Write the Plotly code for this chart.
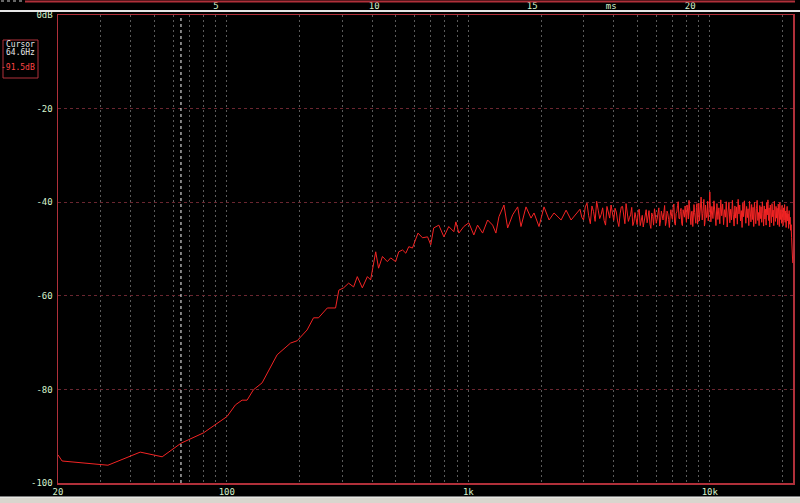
import math
import plotly.graph_objects as go

# ---------------- data ----------------
low_freq = [20, 20.8, 32.2, 43.8, 54.0, 64.6, 80, 91.1, 100.2, 108.6,
            115.7, 121.3, 128.8, 140, 151.6, 161.6, 183.6, 195.6, 215, 228.6,
            239.8, 260.6, 282, 291, 304.6, 319.4, 335, 347, 364, 382,
            394, 413.6, 425, 441, 462, 477, 500, 515, 534, 551,
            567, 587, 619, 646, 678, 699, 719, 755, 792, 830,
            871, 888, 914, 958, 1005, 1054, 1092, 1146, 1202, 1261,
            1301, 1339, 1405, 1455, 1526, 1601, 1652, 1733, 1818, 1871,
            1962, 2058, 2160, 2264, 2422, 2540, 2664, 2840]
low_db = [-94.0, -95.3, -96.2, -93.4, -94.4, -91.5, -89.3, -87.2, -85.8, -83.3,
          -82.3, -82.3, -80.1, -78.6, -75.1, -72.6, -70.1, -69.6, -67.3, -64.7,
          -64.7, -62.6, -62.6, -58.8, -58.3, -57.3, -58.1, -55.9, -58.3, -55.9,
          -56.6, -50.6, -54.1, -51.6, -52.7, -51.9, -52.7, -50.6, -50.2, -50.9,
          -49.5, -49.8, -46.6, -47.6, -47.4, -49.1, -45.5, -44.9, -47.4, -45.2,
          -46.3, -44.2, -46.6, -45.2, -44.4, -47.0, -44.9, -46.6, -43.8, -44.9,
          -46.6, -43.1, -40.6, -45.5, -42.7, -41.0, -45.2, -41.0, -43.4, -42.3,
          -45.2, -41.0, -43.8, -42.3, -43.8, -41.7, -43.8, -42.0]

hi_freq = [2900, 3000, 3100, 3200, 3300, 3400, 3500, 3600, 3700, 3800,
           3900, 4000, 4100, 4200, 4300, 4400, 4500, 4600, 4700, 4800,
           4900, 5000, 5100, 5200, 5300, 5400, 5500, 5600, 5700, 5800,
           5900, 6000, 6100, 6200, 6300, 6400, 6500, 6600, 6700, 6800,
           6900, 7000, 7100, 7200, 7300, 7400, 7500, 7600, 7700, 7800,
           7900, 8000, 8100, 8200, 8300, 8400, 8500, 8600, 8700, 8800,
           8900, 9000, 9100, 9200, 9300, 9400, 9500, 9600, 9700, 9800,
           9900, 10000, 10100, 10200, 10300, 10400, 10500, 10600, 10700, 10800,
           10900, 11000, 11100, 11200, 11300, 11400, 11500, 11600, 11700, 11800,
           11900, 12000, 12100, 12200, 12300, 12400, 12500, 12600, 12700, 12800,
           12900, 13000, 13100, 13200, 13300, 13400, 13500, 13600, 13700, 13800,
           13900, 14000, 14100, 14200, 14300, 14400, 14500, 14600, 14700, 14800,
           14900, 15000, 15100, 15200, 15300, 15400, 15500, 15600, 15700, 15800,
           15900, 16000, 16100, 16200, 16300, 16400, 16500, 16600, 16700, 16800,
           16900, 17000, 17100, 17200, 17300, 17400, 17500, 17600, 17700, 17800,
           17900, 18000, 18100, 18200, 18300, 18400, 18500, 18600, 18700, 18800,
           18900, 19000, 19100, 19200, 19300, 19400, 19500, 19600, 19700, 19800,
           19900, 20000, 20100, 20200, 20300, 20400, 20500, 20600, 20700, 20800,
           20900, 21000, 21100, 21200, 21300, 21400, 21500, 21600, 21700, 21800,
           21900, 22050]
hi_db = [-41.5, -43.8, -40.2, -44.6, -42.0, -39.8, -43.5, -41.2, -44.9, -42.3,
         -40.6, -43.9, -42.1, -45.2, -41.0, -43.6, -40.3, -44.1, -42.7, -45.0,
         -42.2, -44.8, -41.5, -43.9, -45.3, -42.0, -44.4, -41.8, -45.6, -43.0,
         -41.4, -44.5, -42.6, -45.1, -41.9, -43.8, -40.7, -44.2, -42.4, -45.4,
         -41.6, -43.7, -40.4, -44.9, -42.1, -39.9, -43.6, -41.3, -45.0, -42.5,
         -40.8, -44.3, -41.7, -39.6, -43.9, -42.0, -45.2, -40.5, -43.4, -41.1,
         -44.7, -40.2, -42.9, -38.9, -43.8, -41.4, -45.1, -40.6, -43.3, -39.8,
         -42.6, -37.8, -44.2, -40.9, -43.5, -39.7, -42.8, -45.0, -40.3, -43.7,
         -41.2, -44.6, -39.5, -42.9, -40.4, -44.8, -41.6, -43.2, -39.9, -45.3,
         -42.1, -40.0, -44.4, -41.5, -43.8, -39.6, -42.7, -45.1, -40.8, -43.4,
         -41.0, -44.7, -39.4, -42.5, -40.6, -44.0, -41.8, -45.4, -40.2, -43.1,
         -39.7, -42.9, -44.5, -40.9, -43.3, -41.4, -45.0, -39.8, -42.6, -44.2,
         -40.5, -43.7, -41.1, -45.2, -40.0, -42.8, -44.6, -41.3, -39.6, -43.9,
         -42.2, -45.0, -40.7, -43.5, -41.0, -44.3, -39.9, -42.4, -45.1, -40.8,
         -43.6, -41.5, -44.9, -40.1, -42.7, -39.5, -43.9, -41.2, -45.3, -40.6,
         -42.9, -44.4, -40.3, -43.1, -41.7, -45.0, -39.8, -42.5, -44.1, -40.9,
         -43.4, -41.3, -44.8, -40.4, -42.6, -45.2, -40.1, -43.7, -41.6, -44.5,
         -40.7, -42.9, -45.0, -41.2, -43.8, -40.5, -44.3, -41.9, -45.4, -42.2,
         -40.9, -44.0, -42.5, -45.6, -41.8, -44.7, -43.2, -46.0, -44.8, -47.5,
         -50.5, -53.0]

mid_freq = [2950, 3050, 3150, 3250, 3350, 3450, 3550, 3650, 3750, 3850,
            3950, 4050, 4150, 4250, 4350, 4450, 4550, 4650, 4750, 4850,
            4950, 5050, 5150, 5250, 5350, 5450, 5550, 5650, 5750, 5850,
            5950, 6050, 6150, 6250, 6350, 6450, 6550, 6650, 6750, 6850,
            6950, 7050, 7150, 7250, 7350, 7450, 7550, 7650, 7750, 7850,
            7950, 8050, 8150, 8250, 8350, 8450, 8550, 8650, 8750, 8850,
            8950, 9050, 9150, 9250, 9350, 9450, 9550, 9650, 9750, 9850,
            9950]
mid_db = [-43.2, -41.0, -42.9, -40.8, -44.1, -41.7, -42.6, -43.9, -40.9, -43.4,
          -42.8, -41.3, -44.0, -42.5, -40.9, -44.6, -42.0, -43.3, -41.1, -44.2,
          -43.5, -42.1, -45.0, -42.8, -44.0, -41.6, -43.2, -44.7, -42.3, -44.9,
          -42.7, -43.6, -41.2, -44.0, -43.1, -42.2, -45.0, -41.9, -43.7, -42.9,
          -43.0, -41.1, -44.5, -42.4, -40.7, -43.4, -42.0, -44.6, -41.6, -43.2,
          -42.3, -40.6, -43.6, -41.1, -44.8, -41.9, -43.0, -42.2, -44.5, -40.3,
          -42.1, -44.0, -40.8, -43.6, -42.4, -39.4, -44.3, -41.8, -42.7, -44.0,
          -41.3]

pairs = sorted(zip(low_freq + hi_freq + mid_freq, low_db + hi_db + mid_db))
freq_hz = [p[0] for p in pairs]
level_db = [p[1] for p in pairs]

cursor_freq = 64.6
cursor_label = "64.6Hz"
cursor_level = "-91.5dB"

grid_freqs = [20, 30, 40, 50, 60, 70, 80, 90,
              100, 200, 300, 400, 500, 600, 700, 800, 900,
              1000, 2000, 3000, 4000, 5000, 6000, 7000, 8000, 9000,
              10000, 20000]
grid_text = ["20", "", "", "", "", "", "", "",
             "100", "", "", "", "", "", "", "", "",
             "1k", "", "", "", "", "", "", "", "",
             "10k", ""]
db_ticks = [0, -20, -40, -60, -80, -100]
db_text = ["0dB", "-20", "-40", "-60", "-80", "-100"]
ms_ticks = [5, 10, 15, 17.5, 20]
ms_text = ["5", "10", "15", "ms", "20"]
freq_range = [20, 22100]
ms_range = [0, 23.25]

# ---------------- layout geometry ----------------
W, H = 800, 503
ML, MR, MT, MB = 23, 5, 11, 20
PW, PH = W - ML - MR, H - MT - MB


def px(x):
    return (x - ML) / PW


def py(y):
    return 1 - (y - MT) / PH


LABEL = "#d6f2cc"
RED = "#b0303a"
FONT = "DejaVu Sans Mono"

fig = go.Figure()
fig.add_trace(go.Scatter(x=freq_hz, y=level_db, mode="lines",
                         line=dict(color="#f42424", width=1),
                         hoverinfo="skip", showlegend=False))
fig.add_trace(go.Scatter(x=[cursor_freq, cursor_freq], y=[db_ticks[-1], db_ticks[0]],
                         mode="lines", line=dict(color="#ffffff", width=1, dash="3px,3px"),
                         hoverinfo="skip", showlegend=False))
fig.add_trace(go.Scatter(x=[ms_ticks[0]], y=[-300], xaxis="x2", yaxis="y",
                         mode="markers", marker=dict(opacity=0),
                         hoverinfo="skip", showlegend=False))

fig.update_layout(
    width=W, height=H,
    margin=dict(l=ML, r=MR, t=MT, b=MB, autoexpand=False),
    paper_bgcolor="black", plot_bgcolor="black",
    showlegend=False, hovermode=False,
    xaxis=dict(type="log", range=[math.log10(freq_range[0]), math.log10(freq_range[1])],
               domain=[px(58), px(793)], anchor="y", automargin=False,
               tickmode="array", tickvals=grid_freqs, ticktext=grid_text,
               ticks="", ticklabelstandoff=0,
               showgrid=True, gridcolor="#5a5a5a", griddash="2px,3px", gridwidth=1,
               showline=True, linecolor=RED, linewidth=1.5, mirror=True,
               zeroline=False,
               tickfont=dict(family=FONT, size=9, color=LABEL)),
    yaxis=dict(range=[-100, 0], domain=[0, py(15)], anchor="x", automargin=False,
               tickmode="array", tickvals=db_ticks, ticktext=db_text,
               ticks="", showgrid=True, gridcolor="#6a2630", griddash="3px,3px", gridwidth=1,
               showline=True, linecolor=RED, linewidth=1.5, mirror=True,
               zeroline=False, ticklabelstandoff=2,
               tickfont=dict(family=FONT, size=9, color=LABEL)),
    xaxis2=dict(range=ms_range, domain=[0, 1], anchor="free", position=1,
                side="top", overlaying="x", automargin=False,
                tickmode="array", tickvals=ms_ticks, ticktext=ms_text,
                ticks="", showgrid=False, showline=False, zeroline=False,
                ticklabelstandoff=0,
                tickfont=dict(family=FONT, size=9, color=LABEL)),
)

shapes = [
    dict(type="line", xref="paper", yref="paper", x0=px(0), x1=px(800), y0=py(11), y1=py(11),
         line=dict(color="#e6e6e6", width=2)),
    dict(type="line", xref="paper", yref="paper", x0=px(25), x1=px(795), y0=py(1.5), y1=py(1.5),
         line=dict(color=RED, width=2)),
    dict(type="line", xref="paper", yref="paper", x0=px(1), x1=px(24), y0=py(1), y1=py(1),
         line=dict(color="#cccccc", width=1, dash="dot")),
    dict(type="rect", xref="paper", yref="paper", x0=px(3), x1=px(38), y0=py(78), y1=py(40),
         line=dict(color=RED, width=1)),
    dict(type="rect", xref="paper", yref="paper", x0=px(0), x1=px(800), y0=py(503), y1=py(497),
         fillcolor="#d9d6ce", line=dict(width=0)),
    dict(type="line", xref="paper", yref="paper", x0=px(0), x1=px(800), y0=py(497), y1=py(497),
         line=dict(color="#f4f4f4", width=1)),
]
fig.update_layout(shapes=shapes)

ann = [
    dict(text="Cursor", x=px(37), y=py(44), color="#e8e8e8"),
    dict(text=cursor_label, x=px(37), y=py(53), color="#e8e8e8"),
    dict(text=cursor_level, x=px(37), y=py(67), color="#ff4444"),
]
fig.update_layout(annotations=[
    dict(text=a["text"], x=a["x"], y=a["y"], xref="paper", yref="paper",
         xanchor="right", yanchor="middle", showarrow=False,
         font=dict(family=FONT, size=8, color=a["color"])) for a in ann
])

fig.write_html("out.html",
               config={"displayModeBar": False, "staticPlot": True},
               post_script="document.body.style.margin='0';"
                           "document.body.style.background='black';"
                           "document.body.style.overflow='hidden';")
